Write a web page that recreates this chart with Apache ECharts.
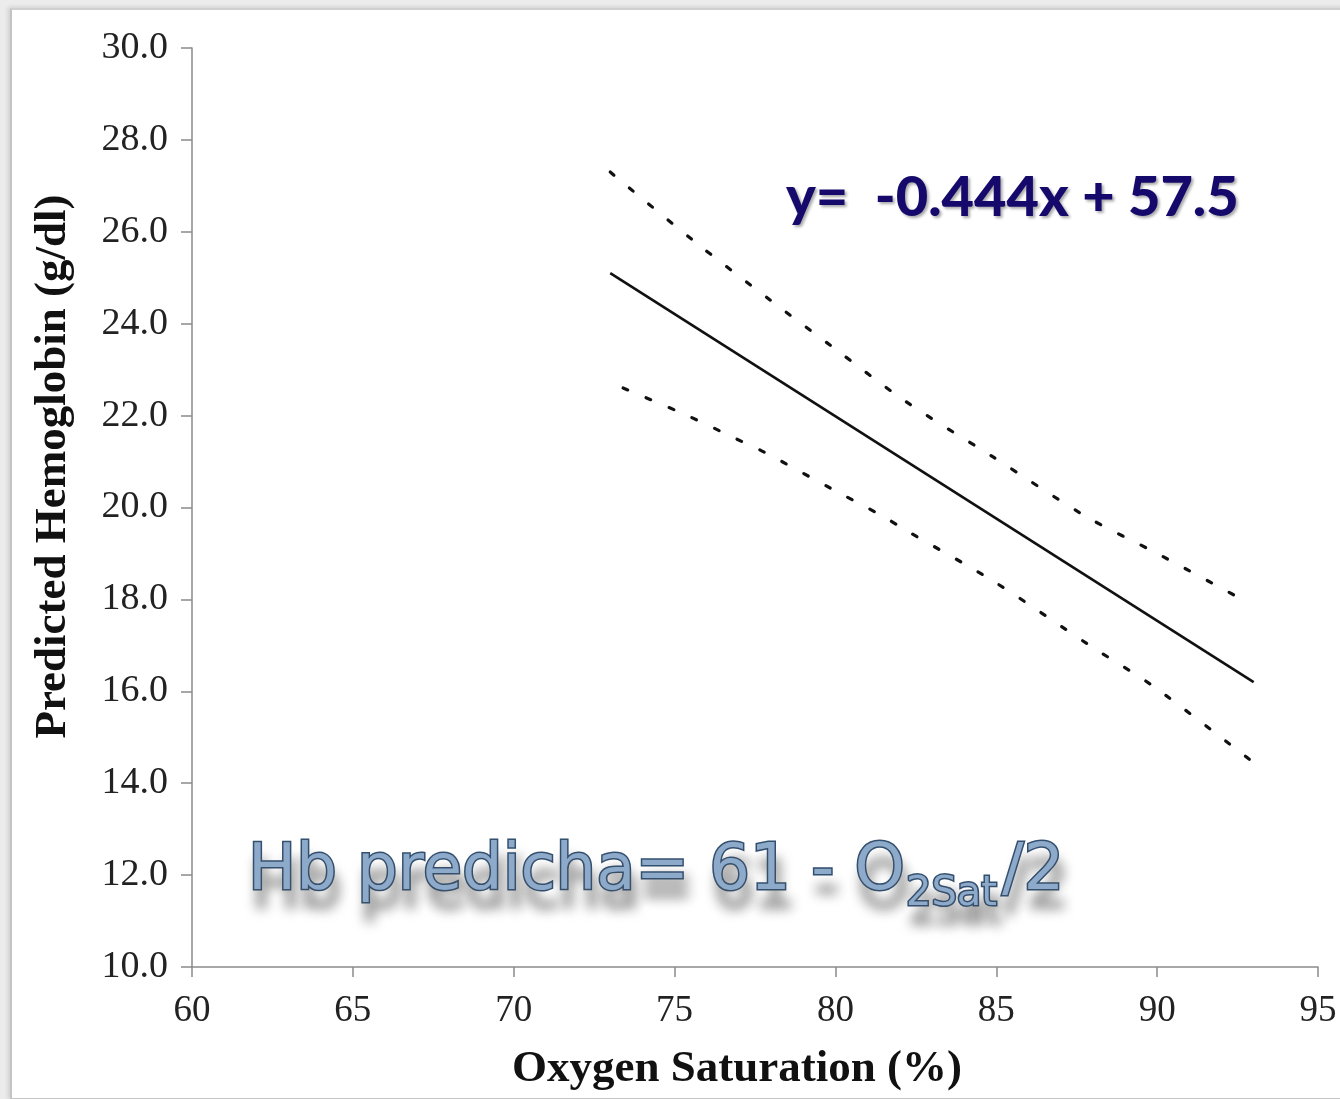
<!DOCTYPE html>
<html>
<head>
<meta charset="utf-8">
<script src="https://cdn.jsdelivr.net/npm/echarts@6/dist/echarts.min.js"></script>
<style>
  html, body { margin: 0; padding: 0; background: #ececec; }
  #wrap { position: relative; width: 1340px; height: 1099px; overflow: hidden; }
  #panel {
    position: absolute; left: 10px; top: 8px; width: 1340px; height: 1088px;
    background: #ffffff; border-left: 2px solid #c4c4c4; border-top: 2px solid #d0d0d0;
    border-bottom: 2px solid #c4c4c4;
    box-shadow: -2px -1px 4px rgba(0,0,0,0.12);
  }
  #chart { position: absolute; left: 0; top: 0; width: 1340px; height: 1099px; }
</style>
</head>
<body>
<div id="wrap">
  <div id="panel"></div>
  <div id="chart"></div>
</div>
<script>
// Regression of predicted hemoglobin on oxygen saturation, with its prediction band
const fitLine   = [[73.0, 25.1], [93.0, 16.2]];
const upperBand = [[73.0, 27.3], [75.6, 25.8], [78.0, 24.5], [79.9, 23.5], [82.2, 22.3],
                   [84.9, 21.1], [87.8, 19.8], [90.0, 19.0], [92.9, 17.9]];
const lowerBand = [[73.4, 22.6], [75.4, 22.0], [76.9, 21.5], [77.8, 21.2], [79.9, 20.4],
                   [81.5, 19.8], [82.2, 19.5], [84.9, 18.4], [87.9, 17.0], [89.9, 16.1],
                   [92.9, 14.5]];
const xTicks = [60, 65, 70, 75, 80, 85, 90, 95];
const yTicks = [10, 12, 14, 16, 18, 20, 22, 24, 26, 28, 30];

const equationText = 'y=  -0.444x + 57.5';
const formulaMain = 'Hb predicha= 61 - O';
const formulaSub = '2Sat';
const formulaEnd = '/2';

const serif = '"Liberation Serif", "DejaVu Serif", serif';
const rounded = '"Comic Sans MS", "DejaVu Sans", sans-serif';

const chart = echarts.init(document.getElementById('chart'), null, { renderer: 'canvas' });

const dotted = { color: '#111', width: 3.2, type: [5, 20], cap: 'round' };

// light steel-blue lettering with a dark rim and a soft grey drop shadow
const embossed = {
  fill: '#8eaacb',
  stroke: '#34506f',
  lineWidth: 3,
  textShadowColor: 'rgba(80,80,80,0.5)',
  textShadowBlur: 12,
  textShadowOffsetX: 4,
  textShadowOffsetY: 18,
  verticalAlign: 'bottom'
};

chart.setOption({
  backgroundColor: 'transparent',
  animation: false,
  grid: { left: 192, right: 22, top: 48, bottom: 132, outerBoundsMode: 'none', containLabel: false },
  xAxis: {
    type: 'value',
    min: xTicks[0], max: xTicks[xTicks.length - 1], interval: 5,
    name: 'Oxygen Saturation (%)',
    nameLocation: 'middle', nameGap: 80,
    nameTextStyle: { fontFamily: serif, fontWeight: 'bold', fontSize: 45, color: '#111',
                     padding: [0, 36, 0, 0] },
    axisLine: { lineStyle: { color: '#8a8a8a', width: 1.5 } },
    axisTick: { show: true, inside: false, length: 10, lineStyle: { color: '#8a8a8a', width: 1.5 } },
    axisLabel: { fontFamily: serif, fontSize: 37, color: '#222', margin: 26 },
    splitLine: { show: false }
  },
  yAxis: {
    type: 'value',
    min: yTicks[0], max: yTicks[yTicks.length - 1], interval: 2,
    name: 'Predicted Hemoglobin (g/dl)',
    nameLocation: 'middle', nameGap: 116, nameRotate: 90,
    nameTextStyle: { fontFamily: serif, fontWeight: 'bold', fontSize: 45, color: '#111',
                     padding: [0, 0, 0, 82] },
    axisLine: { show: true, lineStyle: { color: '#8a8a8a', width: 1.5 } },
    axisTick: { show: true, inside: false, length: 11, lineStyle: { color: '#8a8a8a', width: 1.5 } },
    axisLabel: { fontFamily: serif, fontSize: 38, color: '#222', margin: 24,
                 formatter: v => v.toFixed(1) },
    splitLine: { show: false }
  },
  series: [
    { name: 'fit', type: 'line', data: fitLine, symbol: 'none',
      lineStyle: { color: '#111', width: 2.6 } },
    { name: 'upper', type: 'line', data: upperBand, symbol: 'none', smooth: 0.3,
      lineStyle: dotted },
    { name: 'lower', type: 'line', data: lowerBand, symbol: 'none', smooth: 0.3,
      lineStyle: dotted }
  ],
  graphic: [
    { type: 'text', x: 786, y: 226, z: 10,
      style: { text: equationText, fill: '#15096c', verticalAlign: 'bottom',
               font: '900 56px "Lato", sans-serif',
               textShadowColor: 'rgba(0,0,0,0.35)', textShadowBlur: 3,
               textShadowOffsetX: 2, textShadowOffsetY: 2 } },
    { type: 'text', x: 248, y: 904, z: 10,
      style: Object.assign({ text: formulaMain, font: '64px ' + rounded }, embossed) },
    { type: 'text', x: 906, y: 915, z: 10,
      style: Object.assign({ text: formulaSub, font: '40px ' + rounded }, embossed) },
    { type: 'text', x: 1002, y: 904, z: 10,
      style: Object.assign({ text: formulaEnd, font: '64px ' + rounded }, embossed) }
  ]
});
</script>
</body>
</html>
